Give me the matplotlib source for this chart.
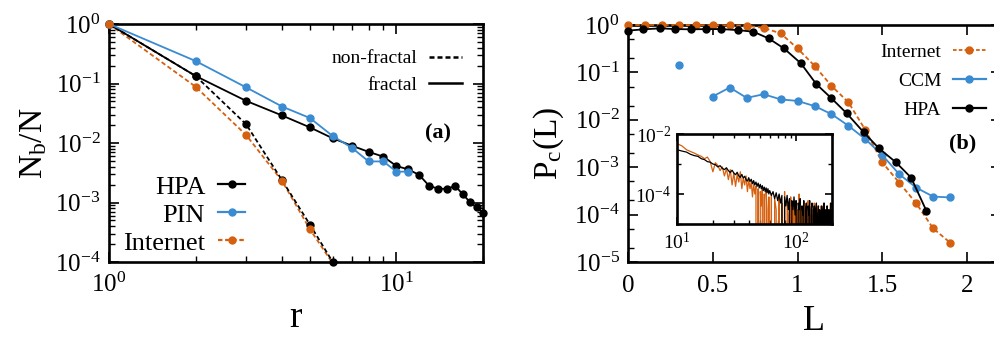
import numpy as np
import matplotlib
matplotlib.use("Agg")
from matplotlib import pyplot as plt
from matplotlib.lines import Line2D
from matplotlib.ticker import LogLocator, MultipleLocator, NullFormatter, FixedLocator

plt.rcParams["font.family"] = ["Liberation Serif", "DejaVu Serif"]
plt.rcParams["mathtext.fontset"] = "custom"
plt.rcParams["mathtext.rm"] = "Liberation Serif"
plt.rcParams["mathtext.it"] = "Liberation Serif:italic"
plt.rcParams["mathtext.bf"] = "Liberation Serif:bold"

BLACK = "#000000"
BLUE = "#3a8bd1"
ORANGE = "#d5600f"

# ---- panel (a): box counting, N_b/N vs r ----
r_hpa = [1, 2, 3, 4, 5, 6, 7, 8, 9, 10, 11, 12, 13, 14, 15, 16, 17, 18, 19, 20]
nb_hpa_fractal = [1.0, 0.134, 0.051, 0.029, 0.0183, 0.012, 0.009, 0.0071, 0.0059, 0.0041,
                  0.0036, 0.0029, 0.0019, 0.0017, 0.0017, 0.0019, 0.00138, 0.00102, 0.00083, 0.00067]
r_pin = [1, 2, 3, 4, 5, 6, 7, 8, 9, 10, 11]
nb_pin = [1.0, 0.239, 0.086, 0.041, 0.0263, 0.0131, 0.0083, 0.0049, 0.0049, 0.0033, 0.0033]
r_short = [1, 2, 3, 4, 5, 6]
nb_hpa_nonfractal = [1.0, 0.134, 0.0206, 0.00236, 0.000425, 0.0001]
nb_internet = [1.0, 0.0885, 0.0136, 0.0023, 0.000355, 0.000095]

# ---- panel (b): P_c(L) ----
L_int = [0.0, 0.1, 0.2, 0.3, 0.4, 0.5, 0.6, 0.7, 0.8, 0.9, 1.0, 1.1, 1.2, 1.3, 1.4, 1.5, 1.6, 1.7, 1.8, 1.9]
pc_internet = [1.0, 1.0, 1.0, 1.0, 0.99, 0.99, 0.98, 0.97, 0.865, 0.668, 0.32, 0.138, 0.052, 0.0234,
               0.0061, 0.00126, 0.00047, 0.000173, 5.1e-5, 2.56e-5]
L_ccm = [0.3, 0.4, 0.5, 0.6, 0.7, 0.8, 0.9, 1.0, 1.1, 1.2, 1.3, 1.4, 1.5, 1.6, 1.7, 1.8, 1.9]
pc_ccm = [0.143, np.nan, 0.031, 0.048, 0.029, 0.0346, 0.027, 0.025, 0.0195, 0.0132, 0.0075,
          0.0039, 0.0018, 0.00071, 0.00037, 0.00024, 0.00023]
L_hpa = [0.0, 0.09, 0.19, 0.28, 0.37, 0.46, 0.55, 0.65, 0.74, 0.83, 0.92, 1.02, 1.11, 1.20,
         1.29, 1.39, 1.48, 1.58, 1.67, 1.76]
pc_hpa = [0.76, 0.81, 0.85, 0.82, 0.81, 0.82, 0.82, 0.78, 0.72, 0.52, 0.32, 0.155, 0.057, 0.0284,
          0.0137, 0.00545, 0.0025, 0.00127, 0.0006, 0.00012]

# ---- inset ----
inset_x = list(range(10, 61)) + list(range(62, 201, 2))
inset_hpa = [
    3.0e-3, 2.7e-3, 2.5e-3, 2.1e-3, 1.9e-3, 1.8e-3, 1.5e-3, 1.4e-3, 1.2e-3, 1.15e-3,
    1.0e-3, 9.5e-4, 8.0e-4, 8.8e-4, 7.2e-4, 6.5e-4, 7.5e-4, 6.0e-4, 5.2e-4, 6.2e-4,
    5.0e-4, 4.4e-4, 5.3e-4, 4.0e-4, 3.6e-4, 4.5e-4, 3.4e-4, 3.9e-4, 3.0e-4, 2.7e-4,
    3.5e-4, 2.6e-4, 3.1e-4, 2.2e-4, 2.8e-4, 2.0e-4, 2.5e-4, 1.8e-4, 2.3e-4, 1.6e-4,
    2.1e-4, 1.5e-4, 1.9e-4, 1.3e-4, 1.7e-4, 1.2e-4, 1.6e-4, 1.1e-4, 1.5e-4, 1.0e-4,
    1.3e-4,
    9e-5, 1.2e-4, 7e-5, 1.1e-4, 6e-5, 1.0e-4, 5e-5, 9e-5, 0, 8e-5,
    4e-5, 9e-5, 3e-5, 7e-5, 0, 6e-5, 3e-5, 8e-5, 2e-5, 6e-5,
    0, 5e-5, 3e-5, 7e-5, 0, 4e-5, 2e-5, 6e-5, 0, 3e-5,
    5e-5, 0, 4e-5, 2e-5, 6e-5, 0, 3e-5, 5e-5, 0, 2e-5,
    4e-5, 0, 3e-5, 5e-5, 0, 2e-5, 4e-5, 0, 3e-5, 2e-5,
    0, 4e-5, 2e-5, 0, 3e-5, 5e-5, 0, 2e-5, 3e-5, 0,
    4e-5, 2e-5, 0, 3e-5, 2e-5, 0, 3e-5, 5e-5, 0, 3e-5,
]
inset_internet = [
    4.8e-3, 4.0e-3, 3.0e-3, 2.6e-3, 2.3e-3, 2.0e-3, 1.8e-3, 1.5e-3, 1.7e-3, 1.2e-3,
    5.5e-4, 1.1e-3, 9.0e-4, 6.0e-4, 8.0e-4, 4.0e-4, 7.0e-4, 3.0e-4, 6.5e-4, 2.0e-4,
    5.0e-4, 1.8e-4, 4.5e-4, 2.5e-4, 5.5e-4, 1.5e-4, 3.5e-4, 2.0e-4, 4.0e-4, 1.2e-4,
    3.0e-4, 1.5e-4, 2.5e-4, 8.0e-5, 2.2e-4, 1.0e-4, 1.8e-4, 0, 1.5e-4, 0,
    1.2e-4, 4.0e-5, 1.5e-4, 0, 1.0e-4, 0, 1.2e-4, 3.0e-5, 0, 8.0e-5,
    0,
    1e-4, 0, 7e-5, 3e-5, 0, 9e-5, 0, 5e-5, 0, 1.2e-4,
    0, 6e-5, 2e-5, 0, 8e-5, 0, 4e-5, 0, 6e-5, 0,
    3e-5, 0, 1.0e-4, 0, 4e-5, 0, 2e-5, 0, 5e-5, 0,
    3e-5, 0, 6e-5, 0, 2e-5, 0, 4e-5, 0, 3e-5, 0,
    5e-5, 0, 2e-5, 0, 4e-5, 0, 3e-5, 0, 2e-5, 0,
    4e-5, 0, 3e-5, 0, 5e-5, 0, 2e-5, 0, 3e-5, 0,
    4e-5, 0, 2e-5, 0, 3e-5, 0, 5e-5, 0, 3e-5, 0,
]


def style_log_axes(ax, size=16):
    for side in ax.spines.values():
        side.set_linewidth(1.9)
    ax.tick_params(which="both", direction="in", top=True, right=True, labelsize=size, pad=6)
    ax.tick_params(which="major", length=7, width=1.2)
    ax.tick_params(which="minor", length=4, width=1.0)


fig = plt.figure(figsize=(9.95, 3.49), dpi=100)

# panel (a)
ax1 = fig.add_axes([109 / 995, 1 - 262 / 349, 374 / 995, 238 / 349])
ax1.set_xscale("log")
ax1.set_yscale("log")
ax1.set_xlim(1, 20)
ax1.set_ylim(1e-4, 1)
line_kw = dict(marker="o", markersize=5, linewidth=1.3, clip_on=False)
ax1.plot(r_short, nb_hpa_nonfractal, color=BLACK, linestyle=(0, (2.5, 1.5)), zorder=3, **line_kw)
ax1.plot(r_hpa, nb_hpa_fractal, color=BLACK, zorder=3, **line_kw)
ax1.plot(r_pin, nb_pin, color=BLUE, zorder=4, **line_kw)
nb_int = np.array(nb_internet)
r_int = np.array(r_short)
ax1.plot(r_int, nb_int, color=ORANGE, linestyle=(0, (2.5, 1.5)), linewidth=1.3, zorder=2)
keep = nb_int >= 1e-4
ax1.plot(r_int[keep], nb_int[keep], color=ORANGE, linestyle="none", marker="o", markersize=5,
         clip_on=False, zorder=5)
style_log_axes(ax1, 18)
ax1.tick_params(axis="x", pad=8)
ax1.yaxis.set_major_locator(LogLocator(base=10, numticks=10))
ax1.yaxis.set_minor_locator(LogLocator(base=10, subs=np.arange(2, 10), numticks=10))
ax1.yaxis.set_minor_formatter(NullFormatter())
ax1.xaxis.set_minor_formatter(NullFormatter())
ax1.set_xlabel("r", fontsize=27, labelpad=2)
ax1.set_ylabel(r"N$_\mathrm{b}$/N", fontsize=24, labelpad=4)

h_series = [
    Line2D([], [], color=BLACK, marker="o", markersize=5, linewidth=1.6),
    Line2D([], [], color=BLUE, marker="o", markersize=5, linewidth=1.6),
    Line2D([], [], color=ORANGE, marker="o", markersize=5, linewidth=1.6, linestyle=(0, (2, 1.2))),
]
leg1 = ax1.legend(h_series, ["HPA", "PIN", "Internet"], loc="lower right", bbox_to_anchor=(0.37, 0.02),
                  frameon=False, markerfirst=False, alignment="right", fontsize=19,
                  handlelength=1.0, handletextpad=0.5, labelspacing=0.17, borderpad=0.1,
                  borderaxespad=0.0)
ax1.add_artist(leg1)
h_type = [
    Line2D([], [], color=BLACK, linewidth=1.8, linestyle=(0, (2, 1.2))),
    Line2D([], [], color=BLACK, linewidth=1.8),
]
ax1.legend(h_type, ["non-fractal", "fractal"], loc="upper right", bbox_to_anchor=(0.95, 0.90),
           frameon=False, markerfirst=False, alignment="right", fontsize=14,
           handlelength=1.7, handletextpad=0.6, labelspacing=0.45, borderpad=0.1, borderaxespad=0.0)
ax1.text(0.88, 0.54, "(a)", transform=ax1.transAxes, fontsize=16, fontweight="bold",
         ha="center", va="center")

# panel (b)
ax2 = fig.add_axes([628 / 995, 1 - 262 / 349, 373 / 995, 237 / 349])
ax2.set_yscale("log")
ax2.set_xlim(0, 2.2)
ax2.set_ylim(1e-5, 1)
ax2.plot(L_int, pc_internet, color=ORANGE, linestyle=(0, (2.5, 1.5)), zorder=3, **line_kw)
ax2.plot(L_ccm, pc_ccm, color=BLUE, zorder=3, **line_kw)
ax2.plot(L_hpa, pc_hpa, color=BLACK, zorder=4, **line_kw)
style_log_axes(ax2, 18)
ax2.tick_params(axis="x", pad=9)
ax2.xaxis.set_major_locator(MultipleLocator(0.5))
ax2.xaxis.set_major_formatter(lambda v, p: f"{v:g}")
ax2.yaxis.set_major_locator(LogLocator(base=10, numticks=10))
ax2.yaxis.set_minor_locator(LogLocator(base=10, subs=(2, 5), numticks=10))
ax2.yaxis.set_minor_formatter(NullFormatter())
ax2.set_xlabel("L", fontsize=26, labelpad=6)
ax2.set_ylabel(r"P$_\mathrm{c}$(L)", fontsize=24, labelpad=6)

h_b = [
    Line2D([], [], color=ORANGE, marker="o", markersize=5, linewidth=1.3, linestyle=(0, (2, 1.2))),
    Line2D([], [], color=BLUE, marker="o", markersize=5, linewidth=1.6),
    Line2D([], [], color=BLACK, marker="o", markersize=5, linewidth=1.6),
]
ax2.legend(h_b, ["Internet", "CCM", "HPA"], loc="upper right", bbox_to_anchor=(0.965, 0.93),
           frameon=False, markerfirst=False, alignment="right", fontsize=14,
           handlelength=1.7, handletextpad=0.6, labelspacing=0.58, borderpad=0.1, borderaxespad=0.0)
ax2.text(0.898, 0.502, "(b)", transform=ax2.transAxes, fontsize=16, fontweight="bold",
         ha="center", va="center")

# inset
ax3 = fig.add_axes([677 / 995, 1 - 224 / 349, 155 / 995, 90 / 349])
ax3.set_xscale("log")
ax3.set_yscale("log")
ax3.set_xlim(10, 200)
ax3.set_ylim(1e-5, 1e-2)
ax3.plot(inset_x, inset_internet, color=ORANGE, linewidth=0.9)
ax3.plot(inset_x, inset_hpa, color=BLACK, linewidth=0.9)
style_log_axes(ax3, 14)
ax3.tick_params(which="major", length=5, pad=4)
ax3.tick_params(which="minor", length=3)
ax3.tick_params(axis="x", pad=6)
ax3.yaxis.set_major_locator(FixedLocator([1e-4, 1e-2]))
ax3.yaxis.set_minor_locator(FixedLocator([1e-5, 1e-3]))
ax3.yaxis.set_minor_formatter(NullFormatter())
ax3.xaxis.set_minor_formatter(NullFormatter())

fig.savefig("out.png", dpi=100)
